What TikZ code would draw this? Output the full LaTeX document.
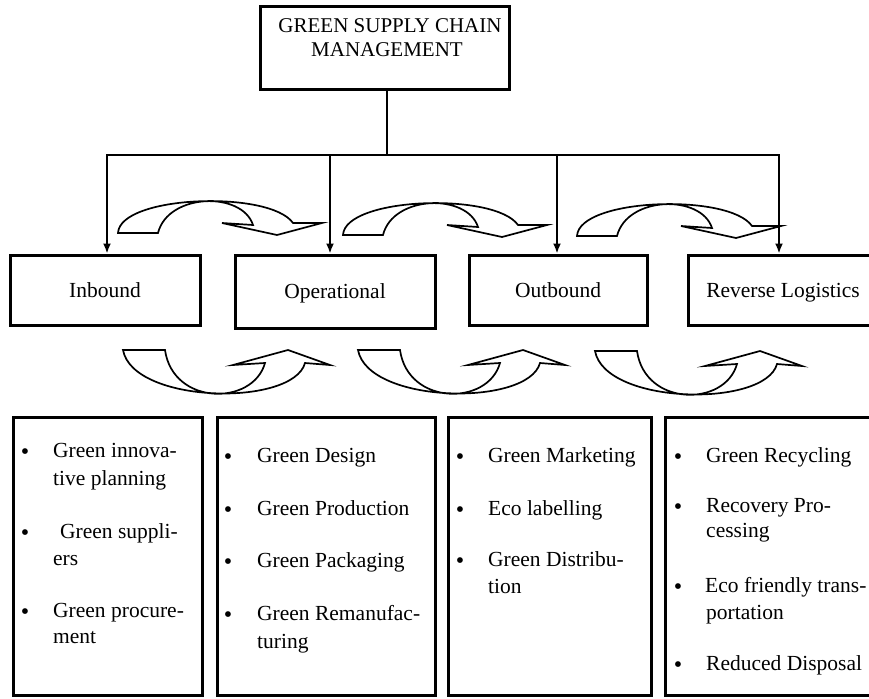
\documentclass[tikz,border=0pt]{standalone}
\usepackage{fontspec}
\setmainfont{Liberation Serif}
\usetikzlibrary{arrows.meta}
\begin{document}
\begin{tikzpicture}[x=1pt,y=-1pt,
  every node/.style={font=\fontsize{21.5}{26}\selectfont, inner sep=0pt},
  box/.style={draw, line width=3pt, rectangle, inner sep=0pt},
  lvl/.style={box, text height=15pt, text depth=1pt},
  conn/.style={line width=1.8pt},
  arr/.style={conn, -{Latex[length=10pt,width=8pt]}},
  band/.style={draw, line width=1.7pt, fill=white, line join=miter},
  txt/.style={anchor=base west},
  ttl/.style={anchor=base, font=\fontsize{21}{25}\selectfont},
  bul/.style={anchor=base, yshift=-2.5pt, font=\fontsize{24}{24}\selectfont},
]
\fill[white] (0,0) rectangle (869,698);
\useasboundingbox (0,0) rectangle (869,698);
\clip (0,0) rectangle (869,698);

% top box
\node[box, minimum width=249pt, minimum height=83pt] (gscm) at (384.5,48.5) {};
\node[ttl] (t1) at (390,33) {GREEN SUPPLY CHAIN};
\node[ttl] (t2) at (387,57) {MANAGEMENT};

% level boxes
\node[lvl, minimum width=190pt, minimum height=70pt] (inb) at (105,290) {Inbound};
\node[lvl, minimum width=200pt, minimum height=73pt] (ops) at (335,291.5) {Operational};
\node[lvl, minimum width=178pt, minimum height=70pt] (outb) at (558,290) {Outbound};
\node[lvl, minimum width=190pt, minimum height=70pt] (rev) at (783,290) {Reverse Logistics};

% connectors
\coordinate (bus) at (387,155);
\coordinate (j1) at (107,155);
\coordinate (j2) at (330,155);
\coordinate (j3) at (557,155);
\coordinate (j4) at (779,155);
\draw[conn] (gscm.south -| bus) -- (bus);
\draw[arr] (j2) -- (j1) -- (j1 |- inb.north);
\draw[arr] (j3) -- (j4) -- (j4 |- rev.north);
\draw[conn] (j2) -- (j3);
\draw[arr] (j2) -- (j2 |- ops.north);
\draw[arr] (j3) -- (j3 |- outb.north);

% curved arrows (top)
\foreach \sx/\sy in {118/233, 343/235, 577/236}{
  \begin{scope}[shift={(\sx,\sy)}]
    \path[band] (0,0) .. controls (2,-38) and (152,-43) .. (175,-10) -- (204,-10) -- (159,2) -- (104,-10) -- (135,-8) .. controls (124,-42) and (50,-40) .. (40,0) -- cycle;
  \end{scope}
}
% curved arrows (bottom)
\foreach \sx/\sy in {123/350, 358/350, 595/351}{
  \begin{scope}[shift={(\sx,\sy)}]
    \path[band] (0,0) -- (42,0) .. controls (50,56) and (130,56) .. (142,13) -- (110,15) -- (165,0) -- (207,15) -- (182,13) .. controls (170,57) and (10,54) .. (0,0) -- cycle;
  \end{scope}
}

% bottom boxes
\node[box, minimum width=189pt, minimum height=278pt] (b1) at (107.5,556) {};
\node[box, minimum width=218pt, minimum height=278pt] (b2) at (326,556) {};
\node[box, minimum width=203pt, minimum height=278pt] (b3) at (549.5,556) {};
\node[box, minimum width=220pt, minimum height=278pt] (b4) at (775,556) {};

% box 1 items
\node[bul] (p11) at (25,457) {\textbullet};
\node[txt] (i11a) at (53,457) {Green innova-};
\node[txt] (i11b) at (53,485) {tive planning};
\node[bul] (p12) at (25,538) {\textbullet};
\node[txt] (i12a) at (60,538) {Green suppli-};
\node[txt] (i12b) at (53,565) {ers};
\node[bul] (p13) at (25,617) {\textbullet};
\node[txt] (i13a) at (53,617) {Green procure-};
\node[txt] (i13b) at (53,643) {ment};

% box 2 items
\node[bul] (p21) at (228,462) {\textbullet};
\node[txt] (i21) at (257,462) {Green Design};
\node[bul] (p22) at (228,515) {\textbullet};
\node[txt] (i22) at (257,515) {Green Production};
\node[bul] (p23) at (228,567) {\textbullet};
\node[txt] (i23) at (257,567) {Green Packaging};
\node[bul] (p24) at (228,620) {\textbullet};
\node[txt] (i24a) at (257,620) {Green Remanufac-};
\node[txt] (i24b) at (257,648) {turing};

% box 3 items
\node[bul] (p31) at (460,462) {\textbullet};
\node[txt] (i31) at (488,462) {Green Marketing};
\node[bul] (p32) at (460,515) {\textbullet};
\node[txt] (i32) at (488,515) {Eco labelling};
\node[bul] (p33) at (460,566) {\textbullet};
\node[txt] (i33a) at (488,566) {Green Distribu-};
\node[txt] (i33b) at (488,593) {tion};

% box 4 items
\node[bul] (p41) at (678,462) {\textbullet};
\node[txt] (i41) at (706,462) {Green Recycling};
\node[bul] (p42) at (678,512) {\textbullet};
\node[txt] (i42a) at (706,512) {Recovery Pro-};
\node[txt] (i42b) at (706,537) {cessing};
\node[bul] (p43) at (678,592) {\textbullet};
\node[txt] (i43a) at (705,592) {Eco friendly trans-};
\node[txt] (i43b) at (706,619) {portation};
\node[bul] (p44) at (678,670) {\textbullet};
\node[txt] (i44) at (706,670) {Reduced Disposal};
\end{tikzpicture}
\end{document}
